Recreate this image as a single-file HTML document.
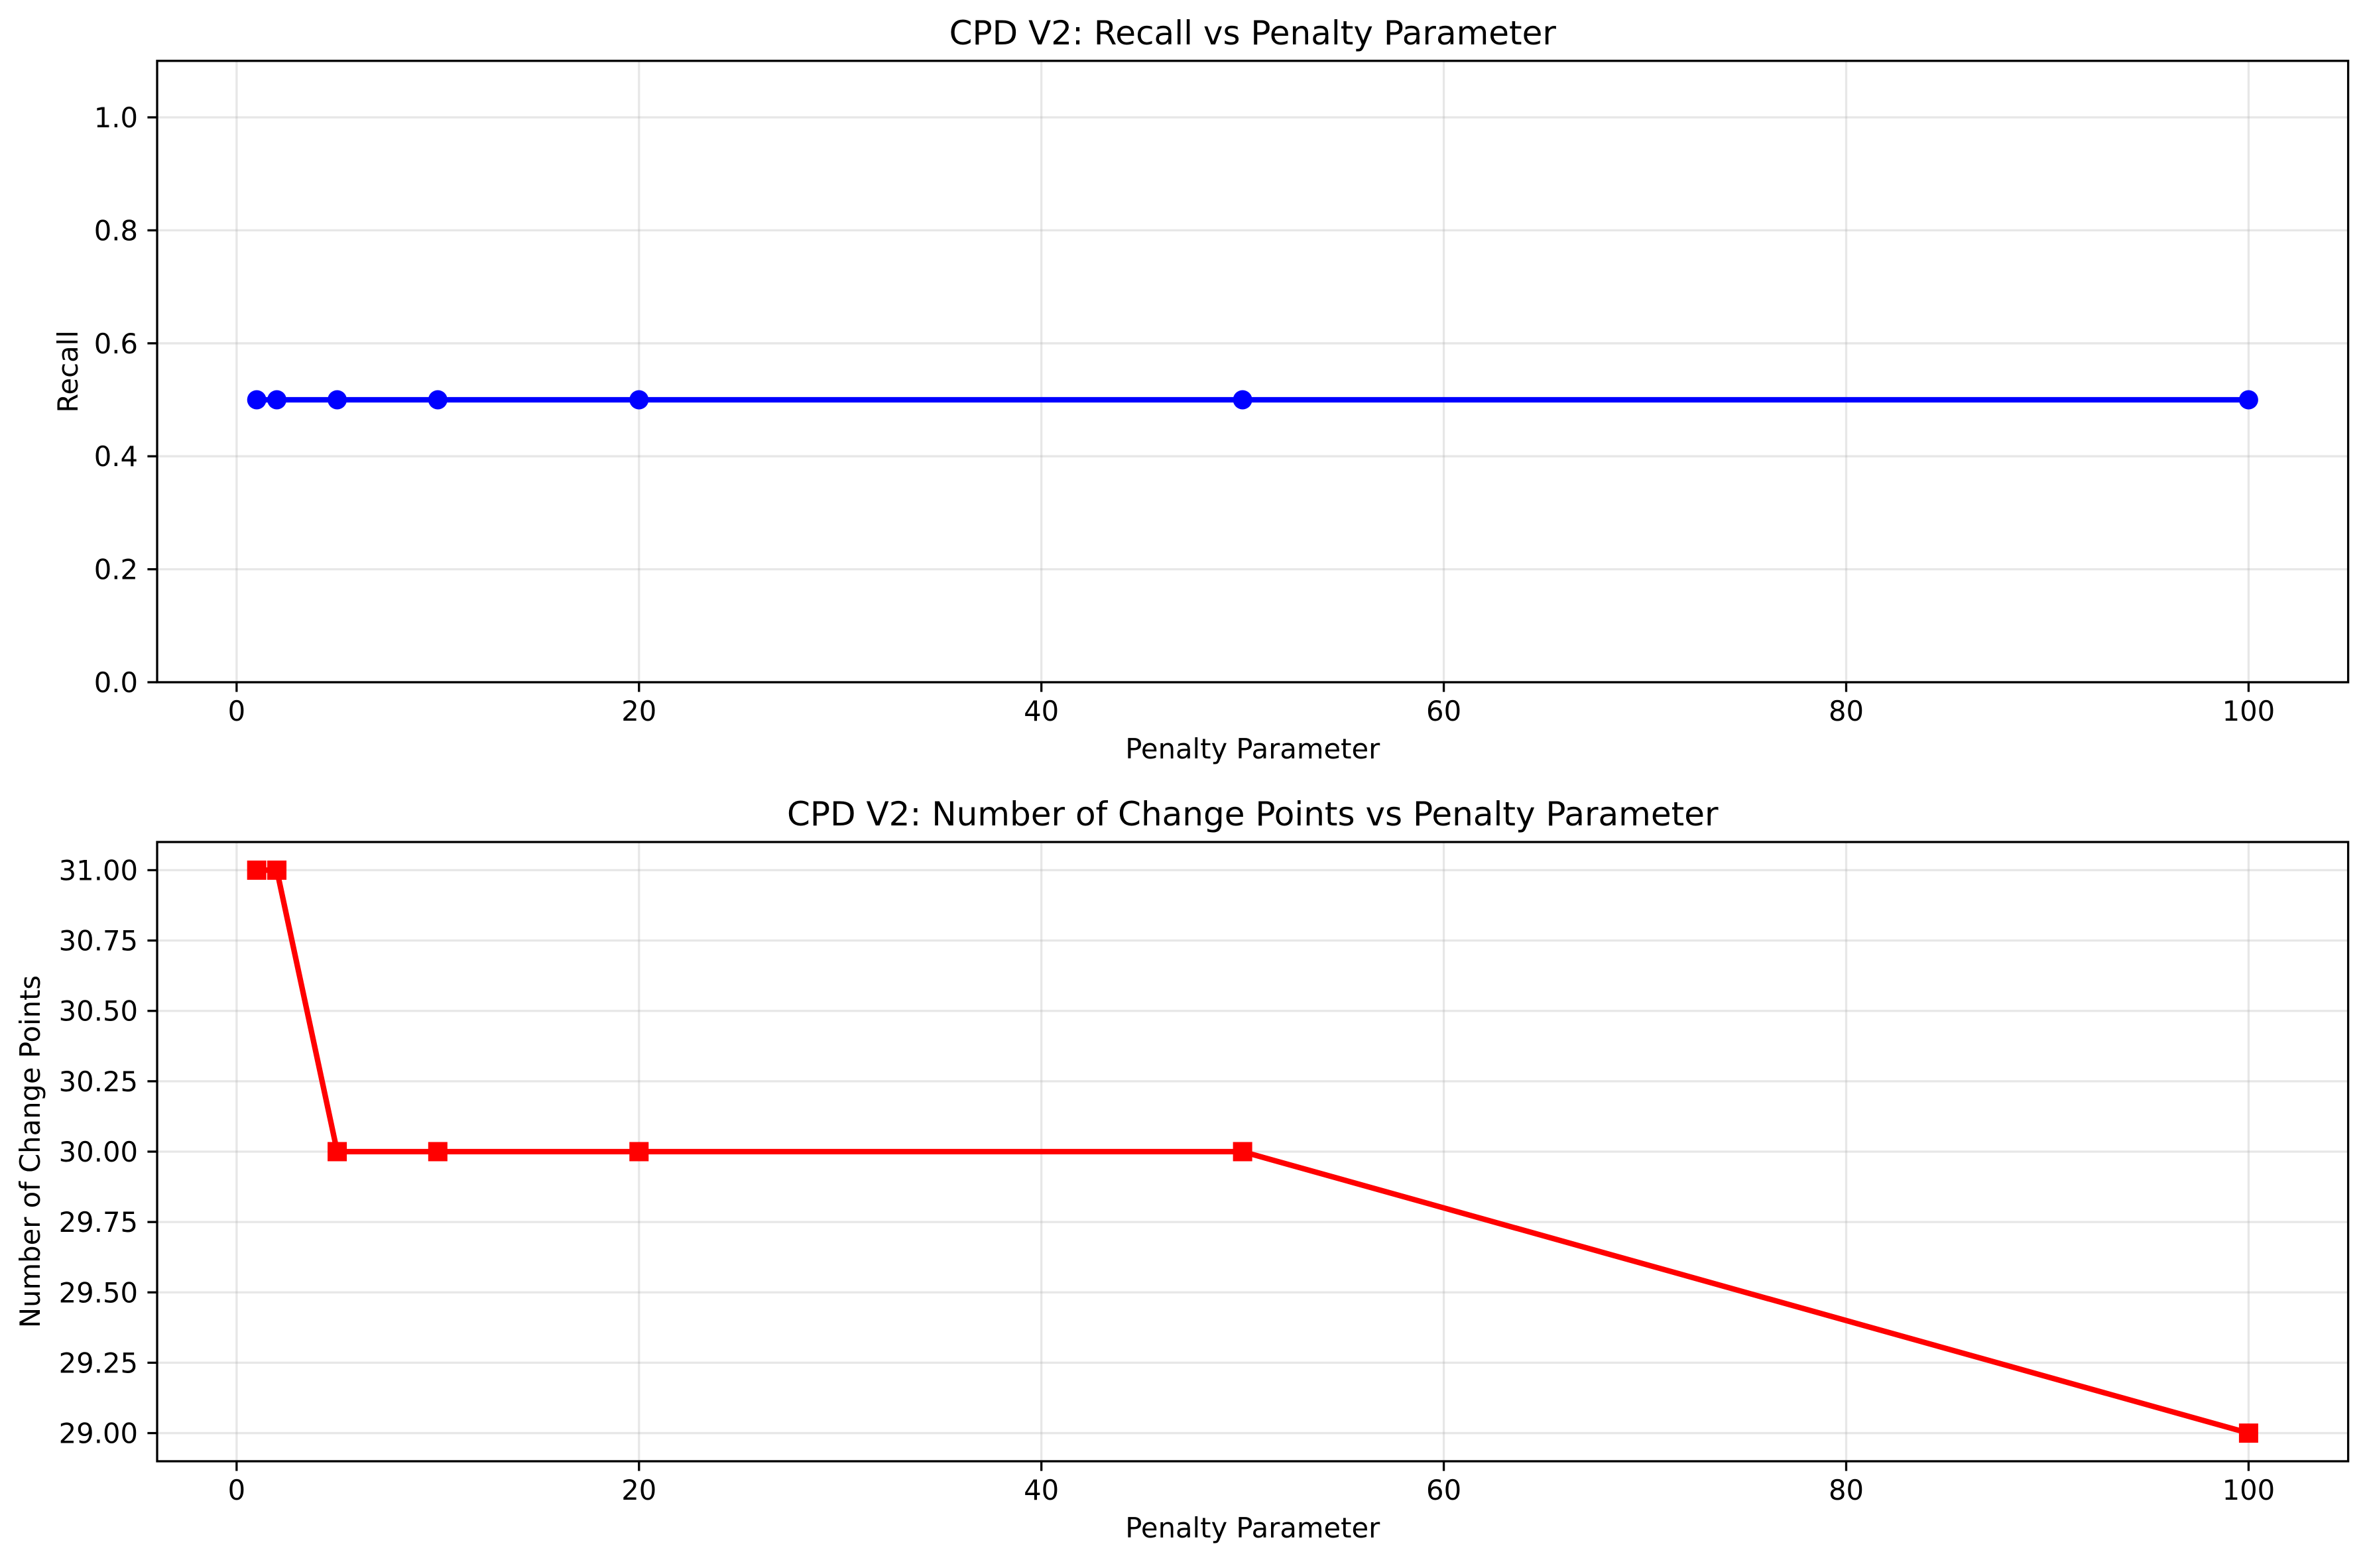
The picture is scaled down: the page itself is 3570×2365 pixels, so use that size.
<!DOCTYPE html>
<html><head><meta charset="utf-8"><style>
html,body{margin:0;padding:0;background:#fff;}
svg{display:block;font-family:"DejaVu Sans","Liberation Sans",sans-serif;}
</style></head><body>
<svg id="chart" width="3570" height="2365" viewBox="0 0 3570 2365" xmlns="http://www.w3.org/2000/svg"></svg>
<script>
const penalties = [1, 2, 5, 10, 20, 50, 100];
const recallValues = [0.5, 0.5, 0.5, 0.5, 0.5, 0.5, 0.5];
const changePointCounts = [31, 31, 30, 30, 30, 30, 29];
const xTicks = [0, 20, 40, 60, 80, 100];
const recallTicks = [0.0, 0.2, 0.4, 0.6, 0.8, 1.0];
const cpTicks = [29.0, 29.25, 29.5, 29.75, 30.0, 30.25, 30.5, 30.75, 31.0];

const NS = "http://www.w3.org/2000/svg";
const svg = document.getElementById('chart');
function mk(tag, attrs, parent) {
  const e = document.createElementNS(NS, tag);
  for (const k in attrs) e.setAttribute(k, attrs[k]);
  (parent || svg).appendChild(e);
  return e;
}
const L = 237, R = 3541.6;
const xMin = -3.95, xMax = 104.95;
function xs(v) { return L + (v - xMin) / (xMax - xMin) * (R - L); }

function panel(cfg) {
  const g = mk('g', {});
  
  
  const T = cfg.top, B = cfg.bottom;
  const ys = v => B - (v - cfg.yMin) / (cfg.yMax - cfg.yMin) * (B - T);
  xTicks.forEach(t => {
    const l = mk('line', {x1: xs(t), x2: xs(t), y1: T, y2: B, stroke: '#b0b0b0', 'stroke-opacity': 0.3, 'stroke-width': 3.3}, g);
    
    
  });
  cfg.yTicks.forEach(t => {
    const l = mk('line', {x1: L, x2: R, y1: ys(t), y2: ys(t), stroke: '#b0b0b0', 'stroke-opacity': 0.3, 'stroke-width': 3.3}, g);
    
    
  });
  const pts = penalties.map((p, i) => xs(p) + ',' + ys(cfg.values[i])).join(' ');
  const pl = mk('polyline', {points: pts, fill: 'none', stroke: cfg.color, 'stroke-width': 8.3, 'stroke-linejoin': 'round', 'stroke-linecap': 'square'}, g);
  
  
  penalties.forEach((p, i) => {
    let m;
    if (cfg.marker === 'circle') {
      m = mk('circle', {cx: xs(p), cy: ys(cfg.values[i]), r: 14.5, fill: cfg.color}, g);
    } else {
      m = mk('rect', {x: xs(p) - 14.5, y: ys(cfg.values[i]) - 14.5, width: 29, height: 29, fill: cfg.color}, g);
    }
    
    
  });
  const sp = mk('rect', {x: L, y: T, width: R - L, height: B - T, fill: 'none', stroke: '#000', 'stroke-width': 3.3}, g);
  
  
  xTicks.forEach(t => {
    mk('line', {x1: xs(t), x2: xs(t), y1: B, y2: B + 14.6, stroke: '#000', 'stroke-width': 3.3}, g);
    const tx = mk('text', {x: xs(t), y: B + 58, 'font-size': 41.7, 'text-anchor': 'middle', fill: '#000'}, g);
    tx.textContent = String(t);
    
    
  });
  cfg.yTicks.forEach(t => {
    mk('line', {x1: L - 14.6, x2: L, y1: ys(t), y2: ys(t), stroke: '#000', 'stroke-width': 3.3}, g);
    const tx = mk('text', {x: L - 29, y: ys(t) + 15, 'font-size': 41.7, 'text-anchor': 'end', fill: '#000'}, g);
    tx.textContent = t.toFixed(cfg.decimals);
    
    
  });
  const xl = mk('text', {x: (L + R) / 2, y: B + 115, 'font-size': 41.7, 'text-anchor': 'middle', fill: '#000'}, g);
  xl.textContent = 'Penalty Parameter';
  
  
  const cy = (T + B) / 2;
  const yl = mk('text', {x: cfg.ylabelX, y: cy, 'font-size': 41.7, 'text-anchor': 'middle', fill: '#000', transform: 'rotate(-90 ' + cfg.ylabelX + ' ' + cy + ')'}, g);
  yl.textContent = cfg.ylabel;
  
  
  const ti = mk('text', {x: (L + R) / 2, y: T - 25, 'font-size': 50, 'text-anchor': 'middle', fill: '#000'}, g);
  ti.textContent = cfg.title;
  
  
}

panel({name: 'recall-panel', top: 91.8, bottom: 1029, yMin: 0, yMax: 1.1, yTicks: recallTicks, decimals: 1,
  values: recallValues, color: '#0000ff', marker: 'circle', seriesName: 'recall-line',
  ylabel: 'Recall', ylabelX: 117, title: 'CPD V2: Recall vs Penalty Parameter'});
panel({name: 'change-points-panel', top: 1270, bottom: 2204, yMin: 28.9, yMax: 31.1, yTicks: cpTicks, decimals: 2,
  values: changePointCounts, color: '#ff0000', marker: 'square', seriesName: 'change-points-line',
  ylabel: 'Number of Change Points', ylabelX: 60, title: 'CPD V2: Number of Change Points vs Penalty Parameter'});
</script>
</body></html>
